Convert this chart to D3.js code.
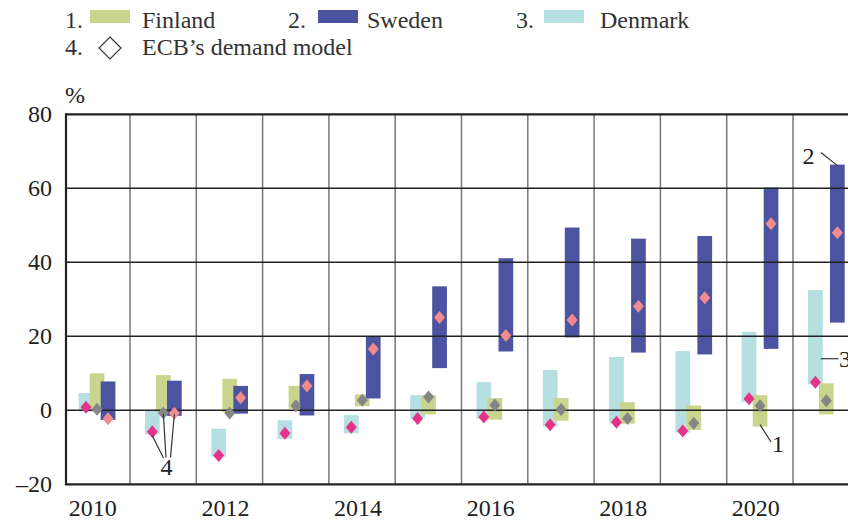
<!DOCTYPE html>
<html>
<head>
<meta charset="utf-8">
<script src="https://cdn.jsdelivr.net/npm/d3@7"></script>
<style>
  body { margin: 0; background: #fff; }
  svg { display: block; font-family: "Liberation Serif", "Times New Roman", serif; }
</style>
</head>
<body>
<script>
// Data (percent)
var years = [2010, 2011, 2012, 2013, 2014, 2015, 2016, 2017, 2018, 2019, 2020, 2021];
var yearLabels = [2010, 2012, 2014, 2016, 2018, 2020];
var yTicks = [-20, 0, 20, 40, 60, 80];

var finLow   = [0, -0.4, -0.5, 0.4, 1.1, -1.1, -2.5, -2.8, -3.6, -5.3, -4.4, -1.1];
var finHigh  = [10, 9.5, 8.5, 6.6, 4.3, 4.1, 3.3, 3.3, 2.2, 1.3, 4.1, 7.3];
var finModel = [0.3, -0.7, -0.7, 1.2, 2.7, 3.6, 1.4, 0.2, -2.2, -3.5, 1.2, 2.6];

var sweLow   = [-2.6, -1.5, -0.9, -1.4, 3.2, 11.4, 15.9, 19.7, 15.6, 15.1, 16.6, 23.7];
var sweHigh  = [7.8, 8.0, 6.6, 9.8, 19.9, 33.5, 41.1, 49.4, 46.4, 47.1, 60.2, 66.4];
var sweModel = [-2.3, -0.8, 3.4, 6.6, 16.6, 25.1, 20.2, 24.4, 28.1, 30.4, 50.4, 48.0];

var denLow   = [-0.3, -6.5, -12.5, -7.7, -6.2, -2.2, -2.3, -4.4, -3.5, -6.0, 2.2, 7.0];
var denHigh  = [4.7, 0, -5, -2.7, -1.3, 4.1, 7.6, 10.9, 14.4, 16.0, 21.2, 32.5];
var denModel = [0.8, -5.8, -12.2, -6.2, -4.6, -2.2, -1.8, -3.9, -3.2, -5.6, 3.1, 7.6];

var width = 848, height = 520;
var barW = 14.7;
var fontSize = 24;

// series drawn back to front: Denmark, Finland, Sweden
var series = [
	{name: "Denmark", low: denLow, high: denHigh, model: denModel, offset: 15, fill: "#b6dfe1", dot: "#e6338a"},
	{name: "Finland", low: finLow, high: finHigh, model: finModel, offset: 26, fill: "#c9d58d", dot: "#858585"},
	{name: "Sweden", low: sweLow, high: sweHigh, model: sweModel, offset: 37, fill: "#4c53a1", dot: "#f08c8e"}
];

var x = d3.scaleBand().domain(years).range([63.7, 859.3]);
var y = d3.scaleLinear().domain([-20, 80]).range([484.3, 114.3]);

var svg = d3.select("body").append("svg")
	.attr("width", width)
	.attr("height", height);

// Legend
var legend = svg.append("g").attr("font-size", fontSize).attr("fill", "#333");
var legItems = [
	{num: "1.", numX: 65, swX: 90, textX: 142, fill: "#c9d58d", text: "Finland"},
	{num: "2.", numX: 288, swX: 318, textX: 367, fill: "#4c53a1", text: "Sweden"},
	{num: "3.", numX: 516, swX: 544, textX: 600, fill: "#b6dfe1", text: "Denmark"}
];
legItems.forEach(function(d) {
	legend.append("text").attr("x", d.numX).attr("y", 28).text(d.num);
	legend.append("rect").attr("x", d.swX).attr("y", 10).attr("width", 40).attr("height", 13).attr("fill", d.fill);
	legend.append("text").attr("x", d.textX).attr("y", 28).text(d.text);
});
legend.append("text").attr("x", 65).attr("y", 55).text("4.");
legend.append("path")
	.attr("d", "M110,37 L121,48 L110,59 L99,48 Z")
	.attr("fill", "#fff").attr("stroke", "#333").attr("stroke-width", 1.2);
legend.append("text").attr("x", 142).attr("y", 55).text("ECB\u2019s demand model");

// Unit label
svg.append("text")
	.attr("x", 65).attr("y", 103)
	.attr("font-size", fontSize).attr("fill", "#222")
	.text("%");

// Bars
series.forEach(function(s) {
	svg.append("g").selectAll("rect")
		.data(years)
		.enter().append("rect")
		.attr("x", function(d) { return x(d) + s.offset; })
		.attr("width", barW)
		.attr("y", function(d, i) { return y(s.high[i]); })
		.attr("height", function(d, i) { return y(s.low[i]) - y(s.high[i]); })
		.attr("fill", s.fill);
});

// Grid: vertical year dividers
svg.append("g").selectAll("line")
	.data(years.slice(1))
	.enter().append("line")
	.attr("x1", function(d) { return x(d); })
	.attr("x2", function(d) { return x(d); })
	.attr("y1", y(80))
	.attr("y2", y(-20))
	.attr("stroke", "#777").attr("stroke-width", 1.5);

// Grid: horizontal lines
svg.append("g").selectAll("line")
	.data(yTicks)
	.enter().append("line")
	.attr("x1", 66).attr("x2", width)
	.attr("y1", function(d) { return y(d); })
	.attr("y2", function(d) { return y(d); })
	.attr("stroke", "#222")
	.attr("stroke-width", function(d) { return (d == 80 || d == -20) ? 2.2 : 1.4; });

// Left axis line
svg.append("line")
	.attr("x1", 66).attr("x2", 66)
	.attr("y1", y(80) - 1).attr("y2", y(-20) + 1)
	.attr("stroke", "#222").attr("stroke-width", 2.2);

// Diamonds for ECB's demand model
function diamond(cx, cy) {
	return "M" + cx + "," + (cy - 6.5) + " L" + (cx + 5.5) + "," + cy +
		" L" + cx + "," + (cy + 6.5) + " L" + (cx - 5.5) + "," + cy + " Z";
}
series.forEach(function(s) {
	svg.append("g").selectAll("path")
		.data(years)
		.enter().append("path")
		.attr("d", function(d, i) { return diamond(x(d) + s.offset + barW / 2, y(s.model[i])); })
		.attr("fill", s.dot);
});

// Y axis labels
var yAxis = d3.axisLeft(y).tickValues(yTicks).tickSize(0).tickPadding(14)
	.tickFormat(function(d) { return d < 0 ? "\u2013" + Math.abs(d) : d; });
var gy = svg.append("g").attr("transform", "translate(66,0)").call(yAxis);
gy.select(".domain").remove();
gy.selectAll("text").attr("font-size", fontSize).attr("fill", "#222").attr("font-family", "Liberation Serif, serif");

// X axis labels
var xAxis = d3.axisBottom(x).tickValues(yearLabels).tickSize(0).tickPadding(15);
var gx = svg.append("g").attr("transform", "translate(0," + y(-20) + ")").call(xAxis);
gx.select(".domain").remove();
gx.selectAll("text").attr("font-size", fontSize).attr("fill", "#222").attr("dx", -4).attr("font-family", "Liberation Serif, serif");

// Annotations
var ann = svg.append("g").attr("stroke", "#333").attr("stroke-width", 1.2);
var i11 = years.indexOf(2011);
ann.append("line")
	.attr("x1", x(2011) + 15 + barW / 2).attr("y1", y(denModel[i11]) + 4)
	.attr("x2", 163.5).attr("y2", 458);
ann.append("line")
	.attr("x1", x(2011) + 26 + barW / 2).attr("y1", y(finModel[i11]) + 1)
	.attr("x2", 166).attr("y2", 457.5);
ann.append("line")
	.attr("x1", x(2011) + 37 + barW / 2).attr("y1", y(sweModel[i11]) + 1)
	.attr("x2", 170.5).attr("y2", 457.5);
var i20 = years.indexOf(2020);
ann.append("line")
	.attr("x1", x(2020) + 26 + barW / 2).attr("y1", y(finLow[i20]) - 2)
	.attr("x2", 771).attr("y2", 442);
var i21 = years.indexOf(2021);
ann.append("line")
	.attr("x1", x(2021) + 15 + barW - 2).attr("y1", 358.7)
	.attr("x2", 838.5).attr("y2", 358.7);
ann.append("line")
	.attr("x1", 821).attr("y1", 152.5)
	.attr("x2", x(2021) + 37 + barW / 2).attr("y2", y(sweHigh[i21]) + 1);

var annText = svg.append("g").attr("font-size", fontSize).attr("fill", "#222");
annText.append("text").attr("x", 166.5).attr("y", 475).attr("text-anchor", "middle").text("4");
annText.append("text").attr("x", 772).attr("y", 452).text("1");
annText.append("text").attr("x", 839).attr("y", 367).text("3");
annText.append("text").attr("x", 802.5).attr("y", 164).text("2");
</script>
</body>
</html>
